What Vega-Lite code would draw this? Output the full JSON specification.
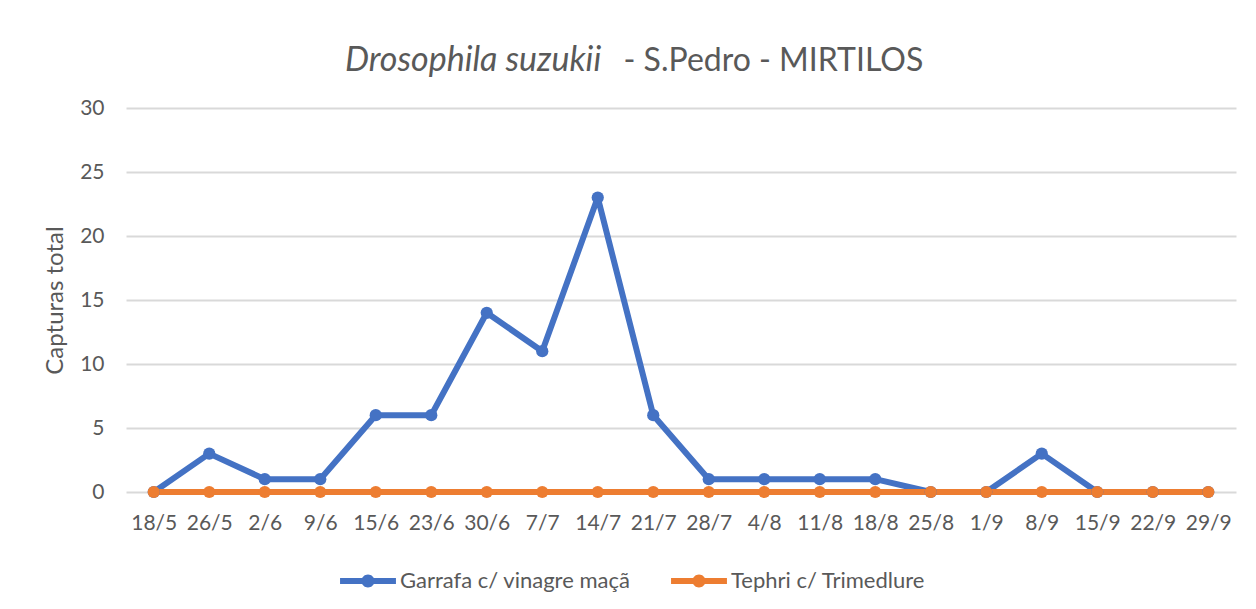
{
  "$schema": "https://vega.github.io/schema/vega-lite/v6.json",
  "width": 1110,
  "height": 384,
  "autosize": {"type": "none"},
  "padding": {"left": 126, "top": 108, "right": 20, "bottom": 117},
  "background": "white",
  "config": {"font": "Lato", "view": {"stroke": null}},
  "title": {
    "text": "Drosophila suzukii",
    "subtitle": "\u200b\u00a0\u00a0\u00a0\u00a0\u00a0\u00a0\u00a0\u00a0\u00a0\u00a0\u00a0\u00a0\u00a0\u00a0\u00a0\u00a0\u00a0\u00a0\u00a0\u00a0\u00a0\u00a0\u00a0\u00a0\u00a0\u00a0\u00a0\u00a0\u00a0\u00a0\u00a0\u00a0\u00a0\u00a0- S.Pedro - MIRTILOS",
    "font": "Lato",
    "fontStyle": "italic",
    "fontWeight": "normal",
    "fontSize": 34,
    "color": "#595959",
    "subtitleFont": "Lato",
    "subtitleFontSize": 32,
    "subtitleFontStyle": "normal",
    "subtitleFontWeight": "normal",
    "subtitleColor": "#595959",
    "subtitlePadding": -32,
    "anchor": "start",
    "frame": "group",
    "dx": 219,
    "offset": 19
  },
  "data": {
    "values": [
      {"d": "18/5", "s": "Garrafa c/ vinagre maçã", "v": 0},
      {"d": "26/5", "s": "Garrafa c/ vinagre maçã", "v": 3},
      {"d": "2/6", "s": "Garrafa c/ vinagre maçã", "v": 1},
      {"d": "9/6", "s": "Garrafa c/ vinagre maçã", "v": 1},
      {"d": "15/6", "s": "Garrafa c/ vinagre maçã", "v": 6},
      {"d": "23/6", "s": "Garrafa c/ vinagre maçã", "v": 6},
      {"d": "30/6", "s": "Garrafa c/ vinagre maçã", "v": 14},
      {"d": "7/7", "s": "Garrafa c/ vinagre maçã", "v": 11},
      {"d": "14/7", "s": "Garrafa c/ vinagre maçã", "v": 23},
      {"d": "21/7", "s": "Garrafa c/ vinagre maçã", "v": 6},
      {"d": "28/7", "s": "Garrafa c/ vinagre maçã", "v": 1},
      {"d": "4/8", "s": "Garrafa c/ vinagre maçã", "v": 1},
      {"d": "11/8", "s": "Garrafa c/ vinagre maçã", "v": 1},
      {"d": "18/8", "s": "Garrafa c/ vinagre maçã", "v": 1},
      {"d": "25/8", "s": "Garrafa c/ vinagre maçã", "v": 0},
      {"d": "1/9", "s": "Garrafa c/ vinagre maçã", "v": 0},
      {"d": "8/9", "s": "Garrafa c/ vinagre maçã", "v": 3},
      {"d": "15/9", "s": "Garrafa c/ vinagre maçã", "v": 0},
      {"d": "22/9", "s": "Garrafa c/ vinagre maçã", "v": 0},
      {"d": "29/9", "s": "Garrafa c/ vinagre maçã", "v": 0},
      {"d": "18/5", "s": "Tephri c/ Trimedlure", "v": 0},
      {"d": "26/5", "s": "Tephri c/ Trimedlure", "v": 0},
      {"d": "2/6", "s": "Tephri c/ Trimedlure", "v": 0},
      {"d": "9/6", "s": "Tephri c/ Trimedlure", "v": 0},
      {"d": "15/6", "s": "Tephri c/ Trimedlure", "v": 0},
      {"d": "23/6", "s": "Tephri c/ Trimedlure", "v": 0},
      {"d": "30/6", "s": "Tephri c/ Trimedlure", "v": 0},
      {"d": "7/7", "s": "Tephri c/ Trimedlure", "v": 0},
      {"d": "14/7", "s": "Tephri c/ Trimedlure", "v": 0},
      {"d": "21/7", "s": "Tephri c/ Trimedlure", "v": 0},
      {"d": "28/7", "s": "Tephri c/ Trimedlure", "v": 0},
      {"d": "4/8", "s": "Tephri c/ Trimedlure", "v": 0},
      {"d": "11/8", "s": "Tephri c/ Trimedlure", "v": 0},
      {"d": "18/8", "s": "Tephri c/ Trimedlure", "v": 0},
      {"d": "25/8", "s": "Tephri c/ Trimedlure", "v": 0},
      {"d": "1/9", "s": "Tephri c/ Trimedlure", "v": 0},
      {"d": "8/9", "s": "Tephri c/ Trimedlure", "v": 0},
      {"d": "15/9", "s": "Tephri c/ Trimedlure", "v": 0},
      {"d": "22/9", "s": "Tephri c/ Trimedlure", "v": 0},
      {"d": "29/9", "s": "Tephri c/ Trimedlure", "v": 0}
    ]
  },
  "encoding": {
    "x": {
      "field": "d",
      "type": "ordinal",
      "sort": ["18/5", "26/5", "2/6", "9/6", "15/6", "23/6", "30/6", "7/7", "14/7", "21/7", "28/7", "4/8", "11/8", "18/8", "25/8", "1/9", "8/9", "15/9", "22/9", "29/9"],
      "scale": {"type": "point", "padding": 0.5},
      "axis": {
        "title": null,
        "labelAngle": 0,
        "labelFontSize": 21,
        "labelColor": "#595959",
        "labelPadding": 20,
        "domain": false,
        "ticks": false,
        "grid": false
      }
    },
    "y": {
      "field": "v",
      "type": "quantitative",
      "scale": {"domain": [0, 30]},
      "axis": {
        "title": "Capturas total",
        "titleFontSize": 24,
        "titleFontWeight": "normal",
        "titleColor": "#595959",
        "titlePadding": 12,
        "values": [0, 5, 10, 15, 20, 25, 30],
        "labelFontSize": 21,
        "labelColor": "#595959",
        "labelPadding": 22,
        "domain": false,
        "ticks": false,
        "gridColor": "#D9D9D9",
        "gridWidth": 2
      }
    },
    "color": {
      "field": "s",
      "type": "nominal",
      "scale": {
        "domain": ["Garrafa c/ vinagre maçã", "Tephri c/ Trimedlure"],
        "range": ["#4472C4", "#ED7D31"]
      },
      "legend": {
        "title": null,
        "orient": "none",
        "legendX": 231,
        "legendY": 462,
        "direction": "horizontal",
        "symbolType": "M-4.3,-0.46H4.3V0.46H-4.3Z M1,0A1,1,0,1,1,-1,0A1,1,0,1,1,1,0Z",
        "symbolSize": 169,
        "symbolStrokeWidth": 0,
        "labelFontSize": 22,
        "labelColor": "#595959",
        "labelOffset": 21,
        "labelLimit": 0,
        "columnPadding": 40,
        "encode": {
          "symbols": {
            "update": {
              "fill": {"scale": "color", "field": "value"},
              "stroke": {"value": "transparent"},
              "opacity": {"value": 1}
            }
          }
        }
      }
    }
  },
  "layer": [
    {"mark": {"type": "line", "strokeWidth": 6, "strokeJoin": "round"}},
    {"mark": {"type": "point", "filled": true, "size": 150, "opacity": 1}}
  ]
}
